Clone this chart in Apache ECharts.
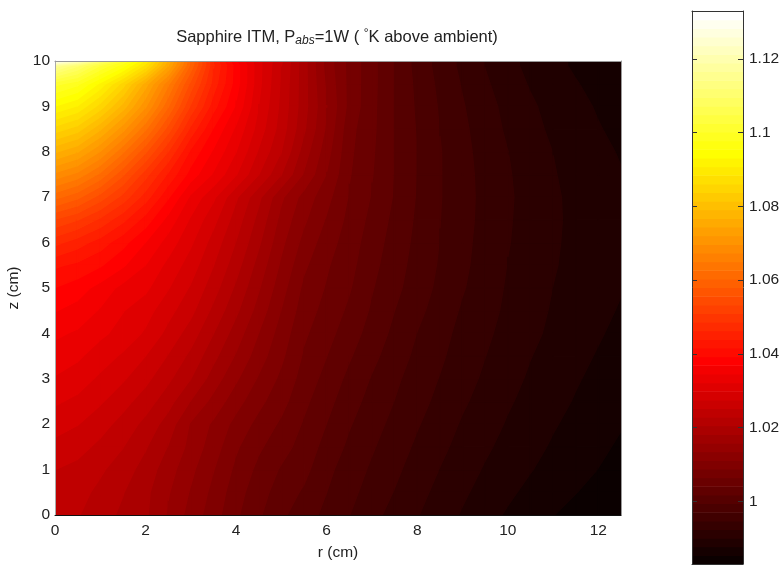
<!DOCTYPE html>
<html>
<head>
<meta charset="utf-8">
<style>html,body{margin:0;padding:0;background:#fff}#c{width:782px;height:565px;filter:blur(0.45px)}</style>
<script src="https://cdn.jsdelivr.net/npm/echarts@6/dist/echarts.min.js"></script>
</head>
<body>
<div id="c"></div>
<script>
const titleText = 'Sapphire ITM, P{sub|abs}=1W ( {sup|°}K above ambient)';
const xName = 'r (cm)';
const yName = 'z (cm)';
const colorTicks = [1, 1.02, 1.04, 1.06, 1.08, 1.1, 1.12];
const colorMin = 0.983;
const colorMax = 1.133;

const rs = [0,.5,1,1.5,2,2.5,3,3.5,4,4.5,5,5.5,6,6.5,7,7.5,8,8.5,9,9.5,10,10.5,11,11.5,12,12.5];
const zs = [0,.5,1,1.5,2,2.5,3,3.5,4,4.5,5,5.5,6,6.5,7,7.5,8,8.5,9,9.5,9.9,10];

const t00 = [1.0238,1.0230,1.0215,1.0200,1.0185,1.0155,1.0125,1.0098,1.0068,1.0044,1.0022,1.0004,.9988,.9971,.9954,.9939,.9925,.9911,.9898,.9885,.9874,.9864,.9854,.9846,.9838,.9832];
const t05 = [1.0243,1.0237,1.0222,1.0206,1.0187,1.0160,1.0132,1.0104,1.0074,1.0050,1.0030,1.0014,.9994,.9977,.9961,.9946,.9931,.9917,.9904,.9892,.9881,.9871,.9862,.9854,.9846,.9839];
const t10 = [1.0252,1.0245,1.0232,1.0216,1.0195,1.0168,1.0140,1.0112,1.0082,1.0058,1.0038,1.0024,1.0000,.9982,.9967,.9952,.9937,.9923,.9910,.9898,.9888,.9878,.9869,.9861,.9853,.9845];
const t15 = [1.0268,1.0260,1.0246,1.0229,1.0207,1.0180,1.0150,1.0122,1.0091,1.0068,1.0050,1.0031,1.0009,.9989,.9973,.9958,.9943,.9929,.9916,.9904,.9893,.9884,.9874,.9866,.9858,.9850];
const t20 = [1.0285,1.0276,1.0261,1.0243,1.0221,1.0194,1.0155,1.0130,1.0103,1.0080,1.0060,1.0038,1.0017,.9996,.9979,.9964,.9949,.9935,.9921,.9910,.9898,.9889,.9879,.9870,.9862,.9855];
const t25 = [1.0302,1.0293,1.0278,1.0260,1.0240,1.0214,1.0180,1.0150,1.0120,1.0094,1.0072,1.0046,1.0025,1.0003,.9986,.9970,.9955,.9941,.9927,.9915,.9903,.9893,.9884,.9875,.9867,.9859];
const t30 = [1.0320,1.0310,1.0294,1.0278,1.0258,1.0233,1.0205,1.0170,1.0138,1.0108,1.0082,1.0054,1.0033,1.0011,.9992,.9975,.9960,.9946,.9932,.9920,.9908,.9897,.9888,.9879,.9871,.9864];
const t35 = [1.0335,1.0326,1.0310,1.0295,1.0275,1.0250,1.0222,1.0188,1.0155,1.0122,1.0092,1.0061,1.0041,1.0020,1.0000,.9982,.9965,.9951,.9936,.9924,.9912,.9901,.9892,.9883,.9875,.9868];
const t40 = [1.0350,1.0342,1.0327,1.0314,1.0295,1.0268,1.0240,1.0205,1.0170,1.0134,1.0100,1.0068,1.0049,1.0028,1.0008,.9988,.9970,.9956,.9939,.9928,.9916,.9905,.9896,.9887,.9879,.9871];
const t45 = [1.0370,1.0360,1.0343,1.0323,1.0308,1.0283,1.0258,1.0222,1.0186,1.0148,1.0110,1.0075,1.0056,1.0036,1.0014,.9994,.9976,.9961,.9944,.9932,.9919,.9908,.9898,.9890,.9882,.9875];
const t50 = [1.0392,1.0380,1.0360,1.0338,1.0327,1.0300,1.0272,1.0238,1.0200,1.0160,1.0120,1.0082,1.0062,1.0043,1.0019,1.0000,.9982,.9965,.9949,.9935,.9921,.9911,.9900,.9892,.9885,.9878];
const t55 = [1.0420,1.0410,1.0395,1.0372,1.0345,1.0315,1.0287,1.0252,1.0214,1.0172,1.0130,1.0092,1.0067,1.0048,1.0024,1.0004,.9985,.9968,.9952,.9937,.9923,.9913,.9902,.9894,.9887,.9880];
const t60 = [1.0470,1.0450,1.0428,1.0400,1.0368,1.0335,1.0302,1.0265,1.0227,1.0185,1.0140,1.0103,1.0075,1.0052,1.0029,1.0007,.9988,.9970,.9954,.9938,.9925,.9914,.9903,.9895,.9888,.9881];
const t65 = [1.0530,1.0510,1.0480,1.0445,1.0405,1.0360,1.0318,1.0282,1.0240,1.0197,1.0150,1.0115,1.0085,1.0057,1.0034,1.0011,.9990,.9971,.9955,.9940,.9926,.9915,.9904,.9895,.9888,.9881];
const t70 = [1.0610,1.0585,1.0545,1.0500,1.0450,1.0395,1.0340,1.0303,1.0255,1.0210,1.0162,1.0125,1.0095,1.0062,1.0039,1.0015,.9992,.9972,.9955,.9941,.9927,.9915,.9904,.9894,.9887,.9880];
const t75 = [1.0690,1.0665,1.0620,1.0560,1.0495,1.0435,1.0382,1.0342,1.0300,1.0252,1.0205,1.0155,1.0110,1.0066,1.0042,1.0016,.9993,.9972,.9955,.9940,.9926,.9913,.9902,.9892,.9885,.9878];
const t80 = [1.0770,1.0745,1.0695,1.0630,1.0560,1.0485,1.0410,1.0365,1.0322,1.0272,1.0228,1.0170,1.0120,1.0069,1.0044,1.0017,.9994,.9972,.9954,.9938,.9924,.9911,.9900,.9890,.9882,.9875];
const t85 = [1.0850,1.0825,1.0770,1.0705,1.0630,1.0545,1.0455,1.0390,1.0340,1.0288,1.0240,1.0185,1.0130,1.0072,1.0046,1.0017,.9992,.9970,.9952,.9935,.9920,.9907,.9896,.9886,.9878,.9872];
const t90 = [1.0930,1.0905,1.0850,1.0780,1.0700,1.0605,1.0505,1.0425,1.0365,1.0298,1.0245,1.0190,1.0135,1.0080,1.0047,1.0017,.9990,.9968,.9949,.9932,.9917,.9904,.9892,.9882,.9875,.9869];
const t95 = [1.1010,1.0985,1.0925,1.0850,1.0755,1.0655,1.0548,1.0452,1.0380,1.0305,1.0248,1.0190,1.0130,1.0080,1.0048,1.0017,.9988,.9965,.9945,.9927,.9912,.9898,.9887,.9878,.9871,.9866];
const t99 = [1.1160,1.1100,1.1025,1.0965,1.0875,1.0745,1.0595,1.0465,1.0380,1.0306,1.0252,1.0190,1.0125,1.0080,1.0048,1.0017,.9985,.9962,.9941,.9923,.9908,.9893,.9882,.9874,.9868,.9864];
const t100 = [1.1300,1.1220,1.1100,1.1000,1.0900,1.0760,1.0600,1.0460,1.0370,1.0305,1.0255,1.0190,1.0125,1.0080,1.0048,1.0017,.9985,.9962,.9941,.9923,.9908,.9893,.9882,.9874,.9868,.9864];
const temps = [t00,t05,t10,t15,t20,t25,t30,t35,t40,t45,t50,t55,t60,t65,t70,t75,t80,t85,t90,t95,t99,t100];

const levelStep = (colorMax - colorMin) / 64;

// MATLAB "hot" colormap with 64 entries
function hot(idx) {
  const i = Math.max(1, Math.min(64, idx));
  const r = Math.min(1, i / 24);
  const g = Math.max(0, Math.min(1, (i - 24) / 24));
  const b = Math.max(0, Math.min(1, (i - 48) / 16));
  return 'rgb(' + Math.round(r * 255) + ',' + Math.round(g * 255) + ',' + Math.round(b * 255) + ')';
}

// clip polygon [x,y,v] to v>=lim (sign=1) or v<=lim (sign=-1)
function clip(poly, lim, sign) {
  const out = [];
  for (let i = 0; i < poly.length; i++) {
    const a = poly[i], b = poly[(i + 1) % poly.length];
    const ina = sign * (a[2] - lim) >= 0, inb = sign * (b[2] - lim) >= 0;
    if (ina) out.push(a);
    if (ina !== inb) {
      const t = (lim - a[2]) / (b[2] - a[2]);
      out.push([a[0] + t * (b[0] - a[0]), a[1] + t * (b[1] - a[1]), lim]);
    }
  }
  return out;
}

function renderCell(params, api) {
  const i = api.value(2), j = api.value(3);
  const quad = [
    [rs[i], zs[j], temps[j][i]],
    [rs[i + 1], zs[j], temps[j][i + 1]],
    [rs[i + 1], zs[j + 1], temps[j + 1][i + 1]],
    [rs[i], zs[j + 1], temps[j + 1][i]]
  ];
  const vals = quad.map(q => q[2]);
  const lo = Math.floor((Math.min.apply(null, vals) - colorMin) / levelStep);
  const hi = Math.floor((Math.max.apply(null, vals) - colorMin) / levelStep);
  const children = [];
  for (let k = lo; k <= hi; k++) {
    const a = colorMin + k * levelStep, b = a + levelStep;
    let p = clip(quad, a, 1);
    if (p.length) p = clip(p, b, -1);
    if (p.length < 3) continue;
    const col = hot(k + 1);
    children.push({
      type: 'polygon',
      shape: { points: p.map(q => api.coord([q[0], q[1]])) },
      style: { fill: col, stroke: col, lineWidth: 1.4 },
      silent: true
    });
  }
  return { type: 'group', children: children };
}

const cellData = [];
for (let j = 0; j < zs.length - 1; j++) {
  for (let i = 0; i < rs.length - 1; i++) cellData.push([rs[i], zs[j], i, j]);
}

const barData = [];
for (let k = 0; k < 64; k++) barData.push([0, colorMin + (k + 0.5) * levelStep, k]);

function renderBar(params, api) {
  const k = api.value(2);
  const y0 = colorMin + k * levelStep;
  const y1 = y0 + levelStep;
  const p0 = api.coord([0, y0]), p1 = api.coord([1, y1]);
  return {
    type: 'rect',
    shape: { x: p0[0], y: p1[1], width: p1[0] - p0[0], height: p0[1] - p1[1] + 0.6 },
    style: { fill: hot(k + 1) },
    silent: true
  };
}

const font = '"Liberation Sans", Arial, sans-serif';
const labelStyle = { color: '#222', fontFamily: font, fontSize: 15.5 };
const hidden = { show: false };

const chart = echarts.init(document.getElementById('c'), null, { renderer: 'canvas' });
chart.setOption({
  animation: false,
  backgroundColor: '#fff',
  title: {
    text: titleText,
    left: 332, top: 22, textAlign: 'center',
    textStyle: {
      color: '#222', fontFamily: font, fontSize: 16.5, fontWeight: 'normal',
      rich: {
        sub: { fontSize: 12, fontStyle: 'italic', fontFamily: font, color: '#222', padding: [8, 0, 0, 0] },
        sup: { fontSize: 12, fontFamily: font, color: '#222', padding: [0, 0, 7, 0] }
      }
    }
  },
  grid: [
    { left: 55, right: 161, top: 61, bottom: 50, outerBoundsMode: 'none' },
    { left: 692, right: 39, top: 11, bottom: 1, outerBoundsMode: 'none' }
  ],
  xAxis: [
    { gridIndex: 0, z: 10, type: 'value', min: 0, max: 12.5, interval: 2, position: 'bottom',
      name: xName, nameLocation: 'middle', nameGap: 30, nameTextStyle: labelStyle,
      axisLine: { show: true, onZero: false, lineStyle: { color: '#111', width: 1 } },
      axisTick: hidden, splitLine: hidden,
      axisLabel: Object.assign({ margin: 8, showMaxLabel: false, hideOverlap: false }, labelStyle) },
    { gridIndex: 0, z: 10, type: 'value', min: 0, max: 12.5, position: 'top',
      axisLine: { show: true, onZero: false, lineStyle: { color: '#999', width: 1 } },
      axisTick: hidden, axisLabel: hidden, splitLine: hidden },
    { gridIndex: 1, z: 10, type: 'value', min: 0, max: 1, position: 'bottom',
      axisLine: { show: true, onZero: false, lineStyle: { color: '#333', width: 1 } },
      axisTick: hidden, axisLabel: hidden, splitLine: hidden },
    { gridIndex: 1, z: 10, type: 'value', min: 0, max: 1, position: 'top',
      axisLine: { show: true, onZero: false, lineStyle: { color: '#333', width: 1 } },
      axisTick: hidden, axisLabel: hidden, splitLine: hidden }
  ],
  yAxis: [
    { gridIndex: 0, z: 10, type: 'value', min: 0, max: 10, interval: 1, position: 'left',
      name: yName, nameLocation: 'middle', nameGap: 25, nameTextStyle: labelStyle,
      axisLine: { show: true, onZero: false, lineStyle: { color: '#aaa', width: 1 } },
      axisTick: hidden, splitLine: hidden,
      axisLabel: Object.assign({ margin: 5 }, labelStyle) },
    { gridIndex: 0, z: 10, type: 'value', min: 0, max: 10, position: 'right',
      axisLine: { show: true, onZero: false, lineStyle: { color: '#999', width: 1 } },
      axisTick: hidden, axisLabel: hidden, splitLine: hidden },
    { gridIndex: 1, z: 10, type: 'value', min: colorMin, max: colorMax, position: 'right',
      axisLine: { show: true, onZero: false, lineStyle: { color: '#333', width: 1 } },
      axisTick: { show: true, inside: true, length: 5, customValues: colorTicks, lineStyle: { color: '#333' } },
      splitLine: hidden,
      axisLabel: Object.assign({ margin: 6, customValues: colorTicks, formatter: v => String(v) }, labelStyle) },
    { gridIndex: 1, z: 10, type: 'value', min: colorMin, max: colorMax, position: 'left',
      axisLine: { show: true, onZero: false, lineStyle: { color: '#333', width: 1 } },
      axisTick: { show: true, inside: true, length: 5, customValues: colorTicks, lineStyle: { color: '#333' } },
      axisLabel: hidden, splitLine: hidden }
  ],
  series: [
    { type: 'custom', xAxisIndex: 0, yAxisIndex: 0, data: cellData, renderItem: renderCell,
      clip: true, silent: true, encode: { x: 0, y: 1 } },
    { type: 'custom', xAxisIndex: 2, yAxisIndex: 2, data: barData, renderItem: renderBar,
      clip: true, silent: true, encode: { x: 0, y: 1 } }
  ]
});
</script>
</body>
</html>
